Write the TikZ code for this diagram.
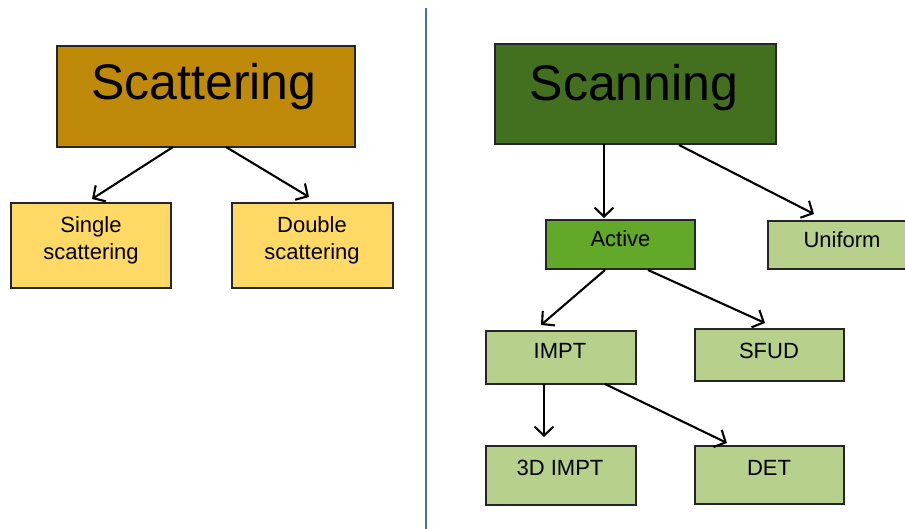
\documentclass[tikz,border=0pt]{standalone}
\usepackage{fontspec}
\setmainfont{Liberation Sans}
\usetikzlibrary{arrows.meta,calc}
\definecolor{scatfill}{HTML}{BF8A0A}
\definecolor{leaffill}{HTML}{FFD966}
\definecolor{scanfill}{HTML}{43701F}
\definecolor{activefill}{HTML}{62A829}
\definecolor{lightgreen}{HTML}{B7D18D}
\definecolor{boxline}{HTML}{262626}
\definecolor{divblue}{HTML}{4A6FA5}
\begin{document}
\begin{tikzpicture}[x=1pt,y=-1pt,
  box/.style={draw=boxline, line width=1.3pt, inner sep=0pt, outer sep=0pt, anchor=north west},
  lbl/.style={inner sep=0pt, anchor=base, font=\fontsize{22}{27}\selectfont},
  lbltwo/.style={inner sep=0pt, anchor=north, align=center, font=\fontsize{22}{27}\selectfont},
  big/.style={inner sep=0pt, anchor=base, font=\fontsize{50}{60}\selectfont},
  link/.style={line width=2.1pt, -{Straight Barb[length=9pt,width=19pt,line width=2.1pt]}},
  divider/.style={draw=divblue, line width=2pt}]
\useasboundingbox (0,0) rectangle (905,529);

% divider between the two halves
\coordinate (divtop) at (426,8);
\coordinate (divbot) at (426,529);
\draw[divider] (divtop) -- (divbot);

% scattering tree
\node[box, fill=scatfill, minimum width=298, minimum height=101] (scat) at (57,46) {};
\node[big] (scatt) at (204,100) {Scattering};
\node[box, fill=leaffill, minimum width=160, minimum height=85] (single) at (11,203) {};
\node[lbltwo] (singlet) at (91,216) {Single\\scattering};
\node[box, fill=leaffill, minimum width=161, minimum height=85] (double) at (232,203) {};
\node[lbltwo] (doublet) at (312,216) {Double\\scattering};

\draw[link] ($(scat.south west)+(116,0)$) -- ($(single.north west)+(81,-4)$);
\draw[link] ($(scat.south west)+(169,0)$) -- ($(double.north west)+(77,-6)$);

% scanning tree
\node[box, fill=scanfill, minimum width=281, minimum height=100] (scan) at (495,44) {};
\node[big] (scant) at (634,101) {Scanning};
\node[box, fill=activefill, minimum width=149, minimum height=49] (active) at (546,220) {};
\node[lbl] (activet) at (620.5,246.5) {Active};
\node[box, fill=lightgreen, minimum width=149, minimum height=48] (uniform) at (768,221) {};
\node[lbl] (uniformt) at (842,248) {Uniform};
\node[box, fill=lightgreen, minimum width=150, minimum height=53] (impt) at (486,331) {};
\node[lbl] (imptt) at (560,358) {IMPT};
\node[box, fill=lightgreen, minimum width=149, minimum height=52] (sfud) at (695,329) {};
\node[lbl] (sfudt) at (769,358) {SFUD};
\node[box, fill=lightgreen, minimum width=150, minimum height=59] (impt3d) at (486,446) {};
\node[lbl] (impt3dt) at (560,475) {3D IMPT};
\node[box, fill=lightgreen, minimum width=149, minimum height=58] (det) at (695,446) {};
\node[lbl] (dett) at (769,475) {DET};

\draw[link] ($(scan.south west)+(109,0)$) -- ($(active.north west)+(58,-2)$);
\draw[link] ($(scan.south west)+(184,1)$) -- ($(uniform.north west)+(46,-7)$);
\draw[link] ($(active.south west)+(59,1)$) -- ($(impt.north west)+(55,-6)$);
\draw[link] ($(active.south west)+(102,1)$) -- ($(sfud.north west)+(70,-6)$);
\draw[link] ($(impt.south west)+(58,0)$) -- ($(impt3d.north west)+(58,-9)$);
\draw[link] ($(impt.south west)+(119,0)$) -- ($(det.north west)+(32,-3)$);
\end{tikzpicture}
\end{document}
